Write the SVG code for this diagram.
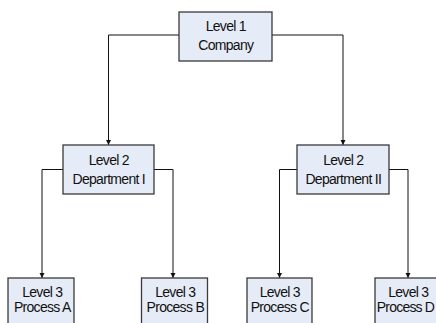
<svg xmlns="http://www.w3.org/2000/svg" width="436" height="323" viewBox="0 0 436 323">
  <style>
    .box { fill: #e6ecf7; stroke: #3a3a3a; stroke-width: 1.3; }
    .lbl { font-family: "Liberation Sans", Arial, sans-serif; font-size: 14px; letter-spacing: -0.7px; fill: #111; text-anchor: middle; }
    .wire { fill: none; stroke: #111; stroke-width: 1; }
  </style>
  <defs>
    <marker id="arrow" viewBox="0 0 10 10" refX="10" refY="5" markerWidth="5" markerHeight="6" markerUnits="userSpaceOnUse" orient="auto">
      <path d="M0,0 L10,5 L0,10 Z" fill="#111"/>
    </marker>
  </defs>
  <rect width="436" height="323" fill="#ffffff"/>

  <!-- connectors -->
  <g id="connectors">
    <path class="wire" d="M179,35 H108.5 V145" marker-end="url(#arrow)"/>
    <path class="wire" d="M272,35 H343 V145" marker-end="url(#arrow)"/>
    <path class="wire" d="M63,169.5 H42 V278" marker-end="url(#arrow)"/>
    <path class="wire" d="M154,169.5 H173 V278" marker-end="url(#arrow)"/>
    <path class="wire" d="M297,169.5 H279.5 V278" marker-end="url(#arrow)"/>
    <path class="wire" d="M389,169.5 H408 V278" marker-end="url(#arrow)"/>
  </g>

  <!-- level 1 -->
  <g id="company">
    <rect class="box" x="179" y="12" width="93" height="49"/>
    <text class="lbl" x="225.8" y="31">Level 1</text>
    <text class="lbl" x="225.8" y="50">Company</text>
  </g>

  <!-- level 2 -->
  <g id="dept1">
    <rect class="box" x="63" y="145" width="91" height="49"/>
    <text class="lbl" x="108.8" y="165">Level 2</text>
    <text class="lbl" x="108.8" y="184">Department I</text>
  </g>
  <g id="dept2">
    <rect class="box" x="297" y="145" width="92" height="49"/>
    <text class="lbl" x="343.3" y="165">Level 2</text>
    <text class="lbl" x="343.3" y="184">Department II</text>
  </g>

  <!-- level 3 -->
  <g id="procA">
    <rect class="box" x="8" y="278" width="66" height="49"/>
    <text class="lbl" x="42.3" y="297">Level 3</text>
    <text class="lbl" x="42.3" y="312">Process A</text>
  </g>
  <g id="procB">
    <rect class="box" x="141.5" y="278" width="66" height="49"/>
    <text class="lbl" x="175.3" y="297">Level 3</text>
    <text class="lbl" x="175.3" y="312">Process B</text>
  </g>
  <g id="procC">
    <rect class="box" x="247" y="278" width="65" height="49"/>
    <text class="lbl" x="279.8" y="297">Level 3</text>
    <text class="lbl" x="279.8" y="312">Process C</text>
  </g>
  <g id="procD">
    <rect class="box" x="375" y="278" width="66" height="49"/>
    <text class="lbl" x="408.3" y="297">Level 3</text>
    <text class="lbl" x="405.5" y="312" style="letter-spacing:-0.8px">Process D</text>
  </g>
</svg>
